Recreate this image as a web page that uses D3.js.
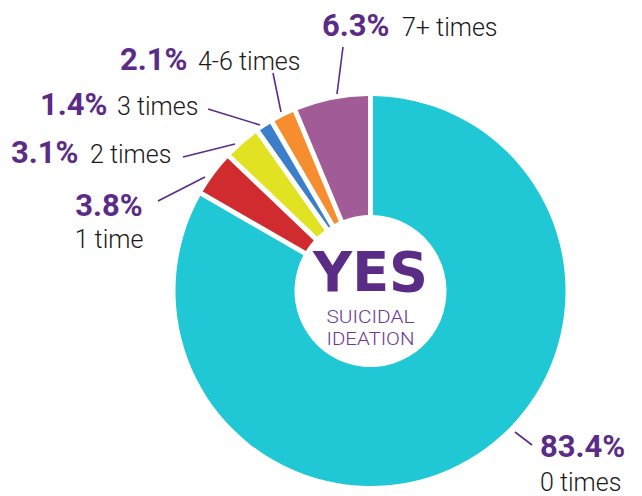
<!DOCTYPE html>
<html>
<head>
<meta charset="utf-8">
<script src="https://cdn.jsdelivr.net/npm/d3@7"></script>
<style>
  html, body { margin: 0; padding: 0; background: #ffffff; }
  svg { display: block; }
</style>
</head>
<body>
<svg id="chart" width="642" height="496"></svg>
<script>
// ---- data ----
const categories = ["0 times", "1 time", "2 times", "3 times", "4-6 times", "7+ times"];
const values = [83.4, 3.8, 3.1, 1.4, 2.1, 6.3];
const valueLabels = ["83.4%", "3.8%", "3.1%", "1.4%", "2.1%", "6.3%"];
const colors = ["#1fc8d4", "#d02c30", "#e1e322", "#3b7ecb", "#f68d2e", "#a15b96"];
const centerTitle = "YES";
const centerSub = ["SUICIDAL", "IDEATION"];

// ---- layout ----
const W = 642, H = 496;
const cx = 370.5, cy = 291, rOuter = 195, rInner = 76;
const purple = "#5b2c86";

const labelLayout = [
  {px: 540, py: 457, pa: "start", cx: 540, cy: 491, ca: "start", l: [515, 432, 532, 445]},
  {px: 109, py: 216, pa: "middle", cx: 109, cy: 248, ca: "middle", l: [158, 201, 205, 177]},
  {px: 11, py: 163, pa: "start", cx: 90, cy: 163, ca: "start", l: [183, 157, 235, 144]},
  {px: 40, py: 115, pa: "start", cx: 117, cy: 115, ca: "start", l: [208, 109, 260, 125]},
  {px: 120, py: 70, pa: "start", cx: 198, cy: 70, ca: "start", l: [273, 73, 281, 112]},
  {px: 322, py: 36, pa: "start", cx: 402, cy: 36, ca: "start", l: [343, 47, 337, 94]}
];

const svg = d3.select("#chart");
svg.append("rect").attr("width", W).attr("height", H).attr("fill", "#fff");

const pie = d3.pie().sort(null).value(d => d).startAngle(0).endAngle(2 * Math.PI);
const arcs = pie(values);

const arc = d3.arc()
  .innerRadius(rInner)
  .outerRadius(rOuter)
  .padRadius(100)
  .padAngle(0.05);

const g = svg.append("g").attr("transform", `translate(${cx},${cy})`);
g.selectAll("path.slice")
  .data(arcs)
  .join("path")
  .attr("class", "slice")
  .attr("d", arc)
  .attr("fill", (d, i) => colors[i]);

svg.selectAll("line.leader")
  .data(labelLayout)
  .join("line")
  .attr("class", "leader")
  .attr("x1", d => d.l[0]).attr("y1", d => d.l[1])
  .attr("x2", d => d.l[2]).attr("y2", d => d.l[3])
  .attr("stroke", purple)
  .attr("stroke-width", 1.6);

const fontFam = "Roboto, 'Liberation Sans', Arial, sans-serif";

svg.selectAll("text.pct")
  .data(valueLabels)
  .join("text")
  .attr("class", "pct")
  .attr("x", (d, i) => labelLayout[i].px)
  .attr("y", (d, i) => labelLayout[i].py)
  .attr("text-anchor", (d, i) => labelLayout[i].pa)
  .attr("font-family", fontFam)
  .attr("font-weight", 700)
  .attr("font-size", 31)
  .attr("fill", purple)
  .text(d => d);

svg.selectAll("text.cat")
  .data(categories)
  .join("text")
  .attr("class", "cat")
  .attr("x", (d, i) => labelLayout[i].cx)
  .attr("y", (d, i) => labelLayout[i].cy)
  .attr("text-anchor", (d, i) => labelLayout[i].ca)
  .attr("font-family", fontFam)
  .attr("font-weight", 300)
  .attr("font-size", 25)
  .attr("fill", "#1a1a1a")
  .text(d => d);

svg.append("text")
  .attr("x", cx).attr("y", 291)
  .attr("text-anchor", "middle")
  .attr("font-family", "'DejaVu Sans', sans-serif")
  .attr("font-weight", 900)
  .attr("font-size", 55)
  .attr("textLength", 115)
  .attr("lengthAdjust", "spacingAndGlyphs")
  .attr("fill", purple)
  .text(centerTitle);

svg.selectAll("text.sub")
  .data(centerSub)
  .join("text")
  .attr("class", "sub")
  .attr("x", cx)
  .attr("y", (d, i) => 323 + i * 21.5)
  .attr("text-anchor", "middle")
  .attr("font-family", fontFam)
  .attr("font-weight", 300)
  .attr("font-size", 18.5)
  .attr("textLength", 88)
  .attr("lengthAdjust", "spacingAndGlyphs")
  .attr("fill", "#6a3a94")
  .text(d => d);
</script>
</body>
</html>
